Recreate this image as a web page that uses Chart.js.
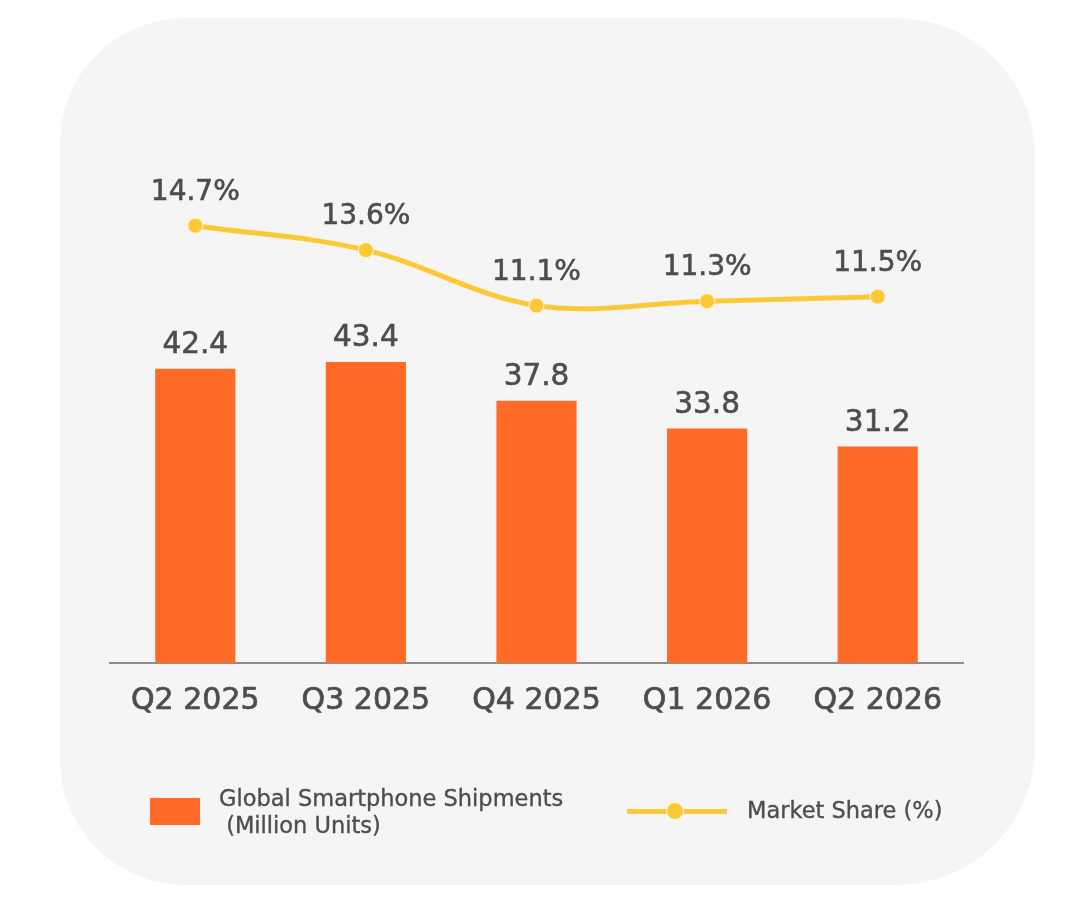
<!DOCTYPE html>
<html>
<head>
<meta charset="utf-8">
<script src="https://cdn.jsdelivr.net/npm/chart.js@4.4.1/dist/chart.umd.min.js"></script>
<style>
  html, body { margin: 0; padding: 0; background: #ffffff; width: 1090px; height: 900px; overflow: hidden; }
  #panel { position: absolute; left: 60px; top: 18px; width: 975px; height: 867px; background: #f5f5f5;
           border-radius: 125px 138px 138px 125px; }
  #chart { position: absolute; left: 0; top: 0; }
  .legend { position: absolute; font-family: "DejaVu Sans", sans-serif; font-size: 22.5px; color: #4d4d4d;
            -webkit-text-stroke: 0.35px #4d4d4d; }
  #lg1box { position: absolute; left: 150px; top: 798px; width: 50px; height: 27px; background: #ff6b27; }
  #lg1txt { left: 219px; top: 785px; line-height: 27px; white-space: pre; }
  #lg2line { position: absolute; left: 627px; top: 809px; width: 100px; height: 5px; background: #fcc936; }
  #lg2dot { position: absolute; left: 666px; top: 802px; width: 18px; height: 18px; border-radius: 50%; background: #fcc936; box-sizing: border-box; border: 1px solid #fff6d8; }
  #lg2txt { left: 747px; top: 797px; line-height: 27px; }
</style>
</head>
<body>
<div id="panel"></div>
<canvas id="chart" width="1090" height="900"></canvas>
<div id="lg1box"></div>
<div class="legend" id="lg1txt">Global Smartphone Shipments
 (Million Units)</div>
<div id="lg2line"></div>
<div id="lg2dot"></div>
<div class="legend" id="lg2txt">Market Share (%)</div>
<script>
const categories = ["Q2 2025", "Q3 2025", "Q4 2025", "Q1 2026", "Q2 2026"];
const shipments = [42.4, 43.4, 37.8, 33.8, 31.2];
const marketShare = [14.7, 13.6, 11.1, 11.3, 11.5];

const textColor = "#4d4d4d";
const fontFamily = "'DejaVu Sans', sans-serif";

const valueLabels = {
  id: "valueLabels",
  afterDatasetsDraw(chart) {
    const ctx = chart.ctx;
    ctx.save();
    ctx.fillStyle = textColor;
    ctx.strokeStyle = textColor;
    ctx.lineWidth = 0.6;
    ctx.textAlign = "center";
    ctx.textBaseline = "alphabetic";
    chart.data.datasets.forEach((ds, i) => {
      const meta = chart.getDatasetMeta(i);
      meta.data.forEach((el, j) => {
        const v = ds.data[j];
        let txt, y;
        if (ds.type === "line") {
          ctx.font = "28px " + fontFamily;
          txt = v.toFixed(1) + "%";
          y = el.y - 26;
        } else {
          ctx.font = "29.5px " + fontFamily;
          txt = v.toFixed(1);
          y = el.y - 16;
        }
        ctx.fillText(txt, el.x, y);
        ctx.strokeText(txt, el.x, y);
      });
    });
    ctx.restore();
  }
};

new Chart(document.getElementById("chart"), {
  data: {
    labels: categories,
    datasets: [
      {
        type: "line",
        label: "Market Share (%)",
        data: marketShare,
        yAxisID: "yShare",
        borderColor: "#fcc936",
        backgroundColor: "#fcc936",
        borderWidth: 5,
        tension: 0.35,
        pointRadius: 7.5,
        pointBackgroundColor: "#fcc936",
        pointBorderColor: "#fff3cc",
        pointBorderWidth: 1,
        order: 0
      },
      {
        type: "bar",
        label: "Global Smartphone Shipments (Million Units)",
        data: shipments,
        yAxisID: "yUnits",
        backgroundColor: "#ff6b27",
        barPercentage: 0.47,
        categoryPercentage: 1.0,
        order: 1
      }
    ]
  },
  options: {
    responsive: false,
    devicePixelRatio: 1,
    animation: false,
    layout: { padding: { left: 110, right: 127, top: 108, bottom: 0 } },
    plugins: { legend: { display: false }, tooltip: { enabled: false } },
    scales: {
      x: {
        grid: { display: false, drawTicks: false },
        border: { display: true, color: "#8c8c8c", width: 2 },
        ticks: { color: textColor, font: { family: fontFamily, size: 30 }, padding: 20,
                 textStrokeColor: textColor, textStrokeWidth: 0.7 },
        afterFit(scale) { scale.height = 900 - 663; }
      },
      yUnits: { display: false, min: 0, max: 80 },
      yShare: { display: false, min: -5, max: 20 }
    }
  },
  plugins: [valueLabels]
});
</script>
</body>
</html>
